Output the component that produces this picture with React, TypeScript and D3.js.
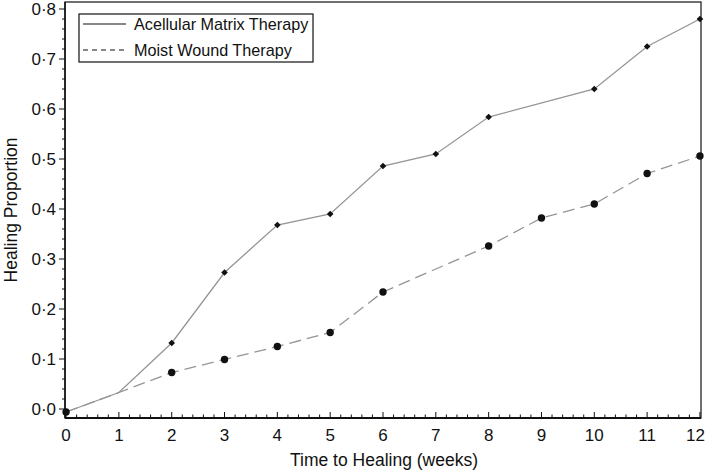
import React from "react";
import * as d3 from "d3";

const acellularWeeks = [0, 1, 2, 3, 4, 5, 6, 7, 8, 10, 11, 12];
const acellularValues = [-0.006, 0.033, 0.132, 0.273, 0.368, 0.39, 0.486, 0.51, 0.584, 0.64, 0.725, 0.78];
const acellularMarkerWeeks = [0, 2, 3, 4, 5, 6, 7, 8, 10, 11, 12];

const moistWeeks = [0, 1, 2, 3, 4, 5, 6, 8, 9, 10, 11, 12];
const moistValues = [-0.006, 0.033, 0.073, 0.099, 0.125, 0.153, 0.234, 0.326, 0.382, 0.41, 0.471, 0.506];
const moistMarkerWeeks = [0, 2, 3, 4, 5, 6, 8, 9, 10, 11, 12];

const xTicks = [0, 1, 2, 3, 4, 5, 6, 7, 8, 9, 10, 11, 12];
const yTicks = [0, 0.1, 0.2, 0.3, 0.4, 0.5, 0.6, 0.7, 0.8];
const legendLabels = ["Acellular Matrix Therapy", "Moist Wound Therapy"];

const W = 706;
const H = 471;
const left = 65;
const right = 701;
const top = 2;
const bottom = 418;

export default function App() {
  const x = d3.scaleLinear().domain([-0.02, 12.02]).range([left, right]);
  const y = d3.scaleLinear().domain([-0.018, 0.814]).range([bottom, top]);
  const xMinor = d3.range(0, 12.001, 0.2);
  const yMinor = d3.range(0, 0.8001, 0.02);
  const line = d3
    .line<[number, number]>()
    .x((d) => x(d[0]))
    .y((d) => y(d[1]));
  const aPts: [number, number][] = acellularWeeks.map((w, i) => [w, acellularValues[i]]);
  const mPts: [number, number][] = moistWeeks.map((w, i) => [w, moistValues[i]]);
  const fmt = (v: number) => v.toFixed(1).replace(".", "·");
  const font = "Liberation Sans, Arial, sans-serif";
  const diamond = d3.symbol().type(d3.symbolSquare).size(22)();

  return (
    <svg
      width={W}
      height={H}
      style={{ position: "absolute", left: 0, top: 0, background: "#fff" }}
      fontFamily={font}
    >
      <rect x={0} y={0} width={W} height={H} fill="#fff" />
      {/* frame */}
      <rect x={left} y={top} width={right - left} height={bottom - top} fill="none" stroke="#111" strokeWidth={1.2} />
      <line x1={left} x2={right} y1={bottom} y2={bottom} stroke="#111" strokeWidth={2} />
      <line x1={left} x2={left} y1={top} y2={bottom} stroke="#111" strokeWidth={1.5} />
      {/* x ticks */}
      {xMinor.map((t, i) => {
        const major = Math.abs(t - Math.round(t)) < 1e-6;
        return (
          <line
            key={"xm" + i}
            x1={x(t)}
            x2={x(t)}
            y1={bottom}
            y2={bottom - (major ? 6 : 3.5)}
            stroke="#111"
            strokeWidth={1}
          />
        );
      })}
      {xTicks.map((t, i) => (
        <text
          key={"xt" + t}
          x={i === xTicks.length - 1 ? W - 1 : x(t)}
          y={bottom + 23}
          textAnchor={i === xTicks.length - 1 ? "end" : "middle"}
          fontSize={17}
          fill="#111"
        >
          {t}
        </text>
      ))}
      {/* y ticks */}
      {yMinor.map((t, i) => {
        const major = Math.abs(t * 10 - Math.round(t * 10)) < 1e-6;
        return (
          <line
            key={"ym" + i}
            x1={left}
            x2={left - (major ? 6 : 3)}
            y1={y(t)}
            y2={y(t)}
            stroke="#111"
            strokeWidth={1}
          />
        );
      })}
      {yTicks.map((t) => (
        <text key={"yt" + t} x={left - 9} y={y(t) + 6} textAnchor="end" fontSize={17} fill="#111">
          {fmt(t)}
        </text>
      ))}
      {/* axis titles */}
      <text x={(left + right) / 2 + 1} y={H - 5} textAnchor="middle" fontSize={17.5} fill="#111">
        Time to Healing (weeks)
      </text>
      <text
        transform={`translate(17, ${(top + bottom) / 2}) rotate(-90)`}
        textAnchor="middle"
        fontSize={17.5}
        fill="#111"
      >
        Healing Proportion
      </text>
      {/* series lines */}
      <path d={line(aPts) || ""} fill="none" stroke="#959595" strokeWidth={1.3} />
      <path d={line(mPts) || ""} fill="none" stroke="#959595" strokeWidth={1.3} strokeDasharray="12,6" />
      {/* markers */}
      {acellularMarkerWeeks.map((w) => {
        const v = acellularValues[acellularWeeks.indexOf(w)];
        return (
          <path key={"am" + w} d={diamond || ""} transform={`translate(${x(w)},${y(v)}) rotate(45)`} fill="#111" />
        );
      })}
      {moistMarkerWeeks.map((w) => {
        const v = moistValues[moistWeeks.indexOf(w)];
        return <circle key={"mm" + w} cx={x(w)} cy={y(v)} r={3.7} fill="#111" />;
      })}
      {/* legend */}
      <rect x={79} y={14} width={234} height={48} fill="#fff" stroke="#111" strokeWidth={1.2} />
      <line x1={83} x2={126} y1={24} y2={24} stroke="#111" strokeWidth={1.2} />
      <line x1={83} x2={126} y1={50} y2={50} stroke="#111" strokeWidth={1.2} strokeDasharray="5,4" />
      <text x={134} y={30} fontSize={16.2} fill="#111">
        {legendLabels[0]}
      </text>
      <text x={134} y={56} fontSize={16.2} fill="#111">
        {legendLabels[1]}
      </text>
    </svg>
  );
}
